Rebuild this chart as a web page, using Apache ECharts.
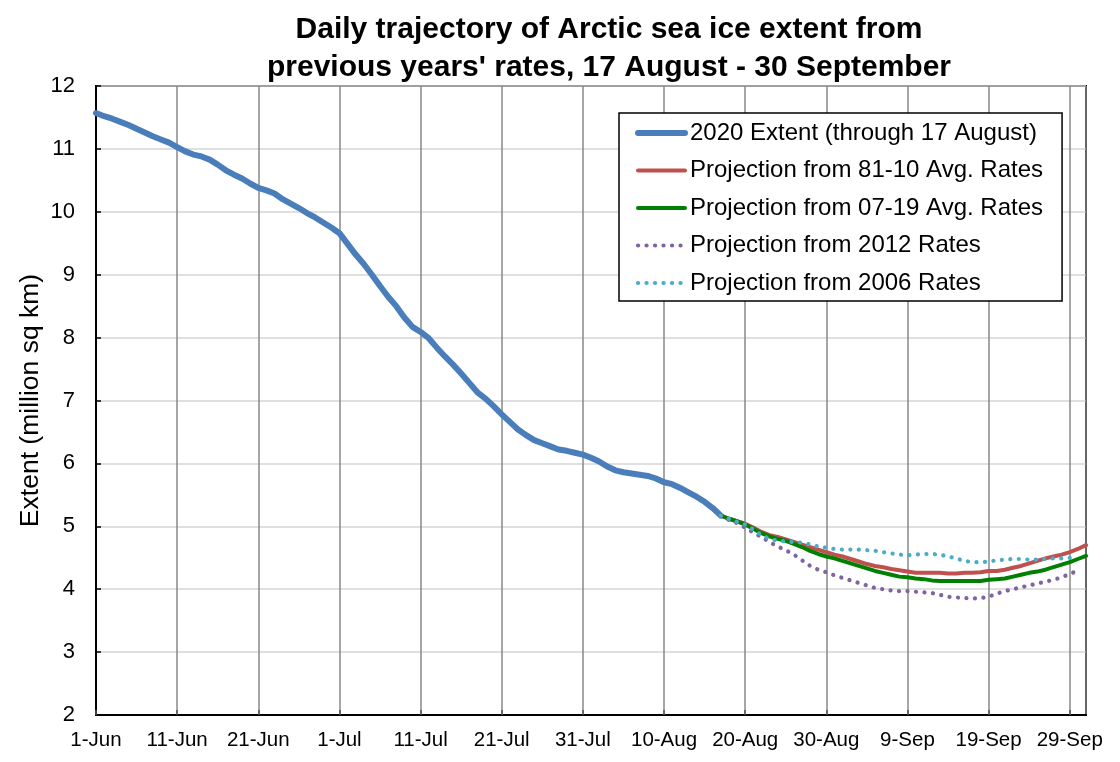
<!DOCTYPE html>
<html>
<head>
<meta charset="utf-8">
<script src="https://cdn.jsdelivr.net/npm/echarts@6/dist/echarts.min.js"></script>
<style>
html,body{margin:0;padding:0;background:#fff;}
#chart{width:1120px;height:762px;}
</style>
</head>
<body>
<div id="chart"></div>
<script>
// x tick labels (every 10 days starting 1-Jun, day 0)
var xTickLabels = ['1-Jun','11-Jun','21-Jun','1-Jul','11-Jul','21-Jul','31-Jul','10-Aug','20-Aug','30-Aug','9-Sep','19-Sep','29-Sep'];
var seriesNames = ['2020 Extent (through 17 August)','Projection from 81-10 Avg. Rates','Projection from 07-19 Avg. Rates','Projection from 2012 Rates','Projection from 2006 Rates'];

// 2020 extent, daily from 1-Jun (day 0) to 17-Aug (day 77)
var extent2020 = [11.57,11.52,11.48,11.43,11.38,11.32,11.26,11.20,11.15,11.10,
  11.03,10.96,10.91,10.88,10.83,10.75,10.66,10.59,10.53,10.45,
  10.38,10.34,10.29,10.20,10.13,10.06,9.98,9.91,9.83,9.75,
  9.66,9.49,9.32,9.17,9.00,8.82,8.65,8.50,8.32,8.17,
  8.09,7.99,7.84,7.70,7.57,7.43,7.28,7.13,7.03,6.91,
  6.78,6.66,6.54,6.45,6.37,6.32,6.27,6.22,6.20,6.17,
  6.14,6.09,6.03,5.95,5.89,5.86,5.84,5.82,5.80,5.76,
  5.70,5.67,5.61,5.54,5.47,5.39,5.29,5.17];

// projections, daily from 17-Aug (day 77)
var projStartDay = 77;
var proj8110 = [5.17,5.12,5.08,5.04,4.98,4.91,4.86,4.83,4.79,4.75,
  4.71,4.67,4.63,4.59,4.55,4.52,4.48,4.44,4.40,4.37,
  4.35,4.32,4.30,4.28,4.26,4.26,4.26,4.26,4.25,4.25,
  4.26,4.26,4.27,4.29,4.29,4.31,4.34,4.37,4.41,4.45,
  4.49,4.52,4.55,4.59,4.64,4.70];
var proj0719 = [5.17,5.12,5.08,5.03,4.96,4.89,4.84,4.80,4.77,4.72,
  4.67,4.61,4.56,4.52,4.49,4.45,4.41,4.37,4.33,4.29,
  4.26,4.23,4.20,4.19,4.17,4.16,4.14,4.13,4.13,4.13,
  4.13,4.13,4.13,4.15,4.16,4.17,4.20,4.23,4.26,4.28,
  4.31,4.35,4.39,4.43,4.48,4.53];
var proj2012 = [5.17,5.10,5.05,4.98,4.90,4.83,4.75,4.68,4.62,4.55,
  4.46,4.37,4.31,4.27,4.22,4.18,4.14,4.10,4.06,4.02,
  4.00,3.98,3.97,3.97,3.96,3.95,3.94,3.91,3.88,3.87,
  3.86,3.85,3.86,3.88,3.93,3.97,4.00,4.03,4.06,4.09,
  4.12,4.15,4.19,4.24,4.30];
var proj2006 = [5.17,5.12,5.07,5.03,4.95,4.86,4.80,4.77,4.76,4.75,
  4.74,4.71,4.68,4.66,4.64,4.63,4.63,4.63,4.62,4.61,
  4.59,4.57,4.55,4.54,4.55,4.56,4.56,4.55,4.52,4.49,
  4.45,4.43,4.43,4.44,4.46,4.47,4.48,4.48,4.47,4.47,
  4.48,4.49,4.49,4.50,4.52];

function toPairs(vals, start) {
  return vals.map(function (v, i) { return [start + i, v]; });
}

var colors = ['#4a7ebb', '#c0504d', '#008000', '#8064a2', '#4bacc6'];
var FONT = '"Liberation Sans", Arial, Helvetica, sans-serif';

var chart = echarts.init(document.getElementById('chart'), null, {renderer: 'canvas'});
var solid = function (c, w) { return {color: c, width: w, type: 'solid', cap: 'round', join: 'round'}; };
var dotted = function (c) { return {color: c, width: 4.2, type: [0.1, 8.4], cap: 'round', join: 'round'}; };

chart.setOption({
  animation: false,
  backgroundColor: '#fff',
  textStyle: {fontFamily: FONT},
  title: {
    text: 'Daily trajectory of Arctic sea ice extent from\nprevious years\' rates, 17 August - 30 September',
    left: 604,
    top: 6,
    textAlign: 'center',
    textStyle: {fontFamily: FONT, fontSize: 30, fontWeight: 'bold', color: '#000', lineHeight: 38}
  },
  grid: {
    left: 96, right: 34, top: 86, bottom: 47,
    show: true, borderColor: '#000', borderWidth: 2, backgroundColor: 'transparent',
    containLabel: false
  },
  legend: {
    orient: 'vertical',
    left: 619, top: 113,
    padding: [8, 19, 6, 16],
    itemGap: 13.5,
    itemWidth: 47,
    itemHeight: 14,
    backgroundColor: '#fff',
    borderColor: '#000',
    borderWidth: 1.5,
    borderRadius: 0,
    data: seriesNames,
    itemStyle: {color: 'rgba(0,0,0,0)', borderColor: 'rgba(0,0,0,0)', borderWidth: 0, opacity: 0},
    lineStyle: {width: 'inherit', type: 'inherit', cap: 'inherit'},
    textStyle: {fontFamily: FONT, fontSize: 24, color: '#000', lineHeight: 24}
  },
  xAxis: {
    type: 'value',
    min: 0, max: 122, interval: 10,
    axisLine: {show: true, lineStyle: {color: '#000', width: 2}},
    axisTick: {show: true, inside: true, length: 5, lineStyle: {color: '#555', width: 1.5}},
    splitLine: {show: true, lineStyle: {color: '#888', width: 1.5}},
    axisLabel: {
      color: '#000', fontSize: 20.5, fontFamily: FONT, margin: 15,
      showMaxLabel: false,
      formatter: function (v) { return (v % 10 === 0 && v / 10 < xTickLabels.length) ? xTickLabels[v / 10] : ''; }
    }
  },
  yAxis: {
    type: 'value',
    min: 2, max: 12, interval: 1,
    name: 'Extent (million sq km)',
    nameLocation: 'middle',
    nameGap: 52,
    nameMoveOverlap: false,
    nameTextStyle: {fontFamily: FONT, fontSize: 26.5, color: '#000'},
    axisLine: {show: true, lineStyle: {color: '#000', width: 2}},
    axisTick: {show: true, inside: true, length: 5, lineStyle: {color: '#000', width: 1.5}},
    splitLine: {show: true, lineStyle: {color: '#d6d6d6', width: 1.5}},
    axisLabel: {color: '#000', fontSize: 22, fontFamily: FONT, margin: 21}
  },
  series: [
    {name: seriesNames[0], type: 'line', showSymbol: false, symbol: 'none', data: toPairs(extent2020, 0), lineStyle: solid(colors[0], 6), itemStyle: {color: colors[0]}, z: 2},
    {name: seriesNames[1], type: 'line', showSymbol: false, symbol: 'none', data: toPairs(proj8110, projStartDay), lineStyle: solid(colors[1], 4), itemStyle: {color: colors[1]}, z: 3},
    {name: seriesNames[2], type: 'line', showSymbol: false, symbol: 'none', data: toPairs(proj0719, projStartDay), lineStyle: solid(colors[2], 4), itemStyle: {color: colors[2]}, z: 3},
    {name: seriesNames[3], type: 'line', showSymbol: false, symbol: 'none', data: toPairs(proj2012, projStartDay), lineStyle: dotted(colors[3]), itemStyle: {color: colors[3]}, z: 4},
    {name: seriesNames[4], type: 'line', showSymbol: false, symbol: 'none', data: toPairs(proj2006, projStartDay), lineStyle: dotted(colors[4]), itemStyle: {color: colors[4]}, z: 4}
  ]
});
</script>
</body>
</html>
